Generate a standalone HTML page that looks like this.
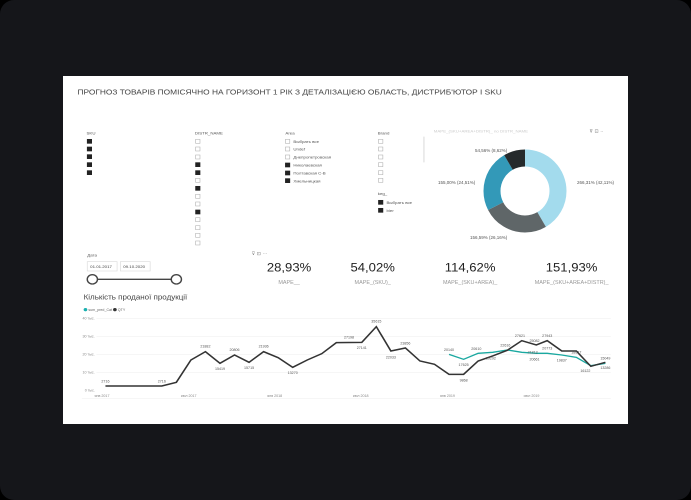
<!DOCTYPE html>
<html><head><meta charset="utf-8"><style>
html,body{margin:0;padding:0;background:#000;}
svg{display:block;font-family:"Liberation Sans","Noto Sans CJK SC",sans-serif;}
</style></head><body>
<svg width="691" height="500" viewBox="0 0 691 500" xmlns="http://www.w3.org/2000/svg">
<rect x="0" y="0" width="691" height="500" rx="14" fill="#15161a"/>
<rect x="63" y="76" width="565" height="348" fill="#fff"/>

<g transform="translate(60 75) scale(0.3636 0.3333)">
<text x="48" y="58" font-size="23" fill="#444">ПРОГНОЗ ТОВАРІВ ПОМІСЯЧНО НА ГОРИЗОНТ 1 РІК З ДЕТАЛІЗАЦІЄЮ ОБЛАСТЬ, ДИСТРИБ'ЮТОР І SKU</text>
<g font-size="12" fill="#555">
<text x="73" y="178">SKU</text>
<text x="371" y="178">DISTR_NAME</text>
<text x="620" y="178">Area</text>
<text x="874" y="178">Brand</text>
<text x="874" y="360">keg_</text>
<text x="1028" y="172" fill="#ccc">MAPE_(SKU+AREA+DISTR)_ no DISTR_NAME</text>
</g>
<g fill="#222">
<rect x="74" y="192" width="14" height="14"/><rect x="74" y="215" width="14" height="14"/><rect x="74" y="238" width="14" height="14"/><rect x="74" y="262" width="14" height="14"/><rect x="74" y="286" width="14" height="14"/>
</g>
<g fill="none" stroke="#aaa" stroke-width="1.5">
<rect x="373" y="193" width="12" height="12"/><rect x="373" y="216" width="12" height="12"/><rect x="373" y="240" width="12" height="12"/><rect x="373" y="310" width="12" height="12"/><rect x="373" y="358" width="12" height="12"/><rect x="373" y="381" width="12" height="12"/><rect x="373" y="428" width="12" height="12"/><rect x="373" y="452" width="12" height="12"/><rect x="373" y="475" width="12" height="12"/><rect x="373" y="498" width="12" height="12"/>
<rect x="620" y="193" width="12" height="12"/><rect x="620" y="216" width="12" height="12"/><rect x="620" y="240" width="12" height="12"/>
<rect x="876" y="193" width="12" height="12"/><rect x="876" y="216" width="12" height="12"/><rect x="876" y="240" width="12" height="12"/><rect x="876" y="263" width="12" height="12"/><rect x="876" y="287" width="12" height="12"/><rect x="876" y="310" width="12" height="12"/>
</g>
<g fill="#222">
<rect x="372" y="262" width="14" height="14"/><rect x="372" y="286" width="14" height="14"/><rect x="372" y="333" width="14" height="14"/><rect x="372" y="404" width="14" height="14"/>
<rect x="619" y="263" width="14" height="14"/><rect x="619" y="287" width="14" height="14"/><rect x="619" y="310" width="14" height="14"/>
<rect x="875" y="375" width="14" height="14"/><rect x="875" y="399" width="14" height="14"/>
</g>
<g font-size="12" fill="#555">
<text x="642" y="204">Выбрать все</text><text x="642" y="227">Undef</text><text x="642" y="251">Днепропетровская</text><text x="642" y="275">Николаевская</text><text x="642" y="298">Полтавская С-В</text><text x="642" y="322">Хмельницкая</text>
<text x="898" y="387">Выбрать все</text><text x="898" y="411">bier</text>
</g>
<line x1="1001" y1="185" x2="1001" y2="262" stroke="#ccc" stroke-width="2"/>
<text x="1456" y="172" font-size="14" fill="#777">⊽ ⊡ ··</text>
</g>

<g transform="rotate(-90 525 191)" fill="none" stroke-width="17">
<circle cx="525" cy="191" r="33" stroke="#a3dbed" stroke-dasharray="86.1 1000"/>
<circle cx="525" cy="191" r="33" stroke="#5f6668" stroke-dasharray="0 86.1 53.5 1000"/>
<circle cx="525" cy="191" r="33" stroke="#3399b8" stroke-dasharray="0 139.6 50.1 1000"/>
<circle cx="525" cy="191" r="33" stroke="#252a2c" stroke-dasharray="0 189.7 17.6 1000"/>
</g>
<g font-size="4.5" fill="#555">
<text x="475" y="152">54,56% (8,62%)</text>
<text x="438" y="184">155,00% (24,51%)</text>
<text x="577" y="184">266,31% (42,11%)</text>
<text x="470" y="239">156,59% (26,16%)</text>
</g>

<g transform="translate(60 245) scale(0.3636 0.3333)">
<text x="75" y="34" font-size="12" fill="#555">Дата</text>
<rect x="75" y="50" width="82" height="28" fill="none" stroke="#ddd" stroke-width="2"/>
<rect x="166" y="50" width="82" height="28" fill="none" stroke="#ddd" stroke-width="2"/>
<text x="83" y="69" font-size="12" fill="#444">01.01.2017</text>
<text x="174" y="69" font-size="12" fill="#444">09.10.2020</text>
<line x1="90" y1="103" x2="320" y2="103" stroke="#444" stroke-width="4"/>
<circle cx="89" cy="103" r="14" fill="#fff" stroke="#444" stroke-width="4"/>
<circle cx="320" cy="103" r="14" fill="#fff" stroke="#444" stroke-width="4"/>
<text x="527" y="30" font-size="14" fill="#777">⊽ ⊡ ···</text>
<g font-size="36" fill="#222" text-anchor="middle">
<text x="630" y="80">28,93%</text><text x="860" y="80">54,02%</text><text x="1128" y="80">114,62%</text><text x="1407" y="80">151,93%</text>
</g>
<g font-size="15" fill="#999" text-anchor="middle">
<text x="630" y="117">MAPE__</text><text x="860" y="117">MAPE_(SKU)_</text><text x="1128" y="117">MAPE_(SKU+AREA)_</text><text x="1407" y="117">MAPE_(SKU+AREA+DISTR)_</text>
</g>
<text x="65" y="163" font-size="22" fill="#444">Кількість проданої продукції</text>
<circle cx="70" cy="194" r="5" fill="#1ab0b0"/><text x="78" y="198" font-size="10" fill="#666">sum_pred_Cat</text>
<circle cx="151" cy="194" r="5" fill="#333"/><text x="159" y="198" font-size="10" fill="#666">QTY</text>
<g stroke="#eee" stroke-width="1.5">
<line x1="100" y1="220" x2="1515" y2="220"/><line x1="100" y1="275" x2="1515" y2="275"/><line x1="100" y1="329" x2="1515" y2="329"/><line x1="100" y1="383" x2="1515" y2="383"/><line x1="60" y1="460" x2="1515" y2="460"/>
</g>
<g font-size="10" fill="#888">
<text x="62" y="223">40 тыс.</text><text x="62" y="278">30 тыс.</text><text x="62" y="332">20 тыс.</text><text x="62" y="386">10 тыс.</text><text x="68" y="440">0 тыс.</text>
<text x="95" y="456">янв 2017</text><text x="332" y="456">июл 2017</text><text x="570" y="456">янв 2018</text><text x="805" y="456">июл 2018</text><text x="1045" y="456">янв 2019</text><text x="1275" y="456">июл 2019</text>
</g>
<polyline fill="none" stroke="#1aa8a0" stroke-width="4" points="1070,328 1110,343 1150,325 1190,322 1230,315 1270,322 1310,325 1340,325 1380,330 1420,337 1460,362 1500,355"/>
<polyline fill="none" stroke="#333" stroke-width="4.5" points="125,423 280,423 320,412 360,345 400,320 440,355 480,330 520,352 560,320 600,338 640,367 680,345 720,326 760,293 830,292 870,245 910,318 950,309 990,348 1030,358 1070,388 1110,388 1150,348 1190,333 1230,316 1270,287 1310,300 1340,287 1380,318 1420,318 1460,364 1500,352"/>
<g font-size="10" fill="#555" text-anchor="middle">
<text x="125" y="412">2716</text><text x="280" y="412">2716</text><text x="400" y="307">21882</text><text x="440" y="375">15419</text><text x="480" y="318">20806</text><text x="520" y="372">15715</text><text x="560" y="307">21936</text><text x="640" y="387">13270</text><text x="795" y="280">27198</text><text x="830" y="312">27141</text><text x="870" y="233">35615</text><text x="910" y="340">22033</text><text x="950" y="298">23856</text><text x="1070" y="318">20140</text><text x="1110" y="363">17625</text><text x="1110" y="410">9868</text><text x="1145" y="315">20610</text><text x="1185" y="343">19292</text><text x="1225" y="304">22616</text><text x="1265" y="276">27621</text><text x="1305" y="291">25082</text><text x="1340" y="276">27943</text><text x="1300" y="325">21813</text><text x="1305" y="347">20661</text><text x="1340" y="313">20773</text><text x="1380" y="350">19837</text><text x="1420" y="325">18627</text><text x="1445" y="381">16122</text><text x="1500" y="343">15049</text><text x="1500" y="372">13286</text>
</g>
</g>
</svg>
</body></html>
